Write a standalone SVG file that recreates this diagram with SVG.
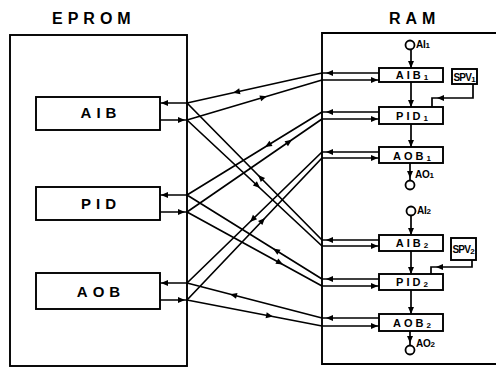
<svg xmlns="http://www.w3.org/2000/svg" xmlns:xlink="http://www.w3.org/1999/xlink" width="496" height="370" viewBox="0 0 496 370">
<style>
.ln{fill:none;stroke:#000;stroke-width:1.7}
.frame{fill:none;stroke:#000;stroke-width:1.9}
.box{fill:#fff;stroke:#000;stroke-width:1.9}
.io{fill:#fff;stroke:#000;stroke-width:1.8}
text{font-family:"Liberation Sans",Arial,sans-serif;fill:#000}
.head{font-size:16px;font-weight:bold;letter-spacing:5px}
.big{font-size:15px;font-weight:bold;letter-spacing:5px;text-anchor:middle}
.sm{font-size:11px;font-weight:bold;letter-spacing:3px;text-anchor:middle}
.sub{font-size:8px;letter-spacing:0}
.lab{font-size:10px;font-weight:bold;letter-spacing:-0.3px}
.spv{font-size:10px;font-weight:bold;letter-spacing:-0.8px}
</style>
<defs>
<path id="ah" d="M0,0 L-7,-3 L-7,3 Z" fill="#000"/>
</defs>
<rect width="496" height="370" fill="#fff"/>

<g id="eprom">
<rect class="frame" x="10" y="35" width="177" height="331"/>
<text class="head" x="52" y="24">EPROM</text>
</g>
<g id="ram">
<path class="frame" d="M497,33 H322 V364 H497"/>
<text class="head" x="389" y="24">RAM</text>
</g>

<g id="connectors">
<path class="ln" d="M187,103 H160 M160,120 H187 M187,195 H160 M160,212 H187 M187,283 H160 M160,300 H187"/>
<use xlink:href="#ah" transform="translate(161,103) rotate(180)"/>
<use xlink:href="#ah" transform="translate(185,120)"/>
<use xlink:href="#ah" transform="translate(161,195) rotate(180)"/>
<use xlink:href="#ah" transform="translate(185,212)"/>
<use xlink:href="#ah" transform="translate(161,283) rotate(180)"/>
<use xlink:href="#ah" transform="translate(185,300)"/>
<path class="ln" d="M322,73 L187,103 M187,120 L322,80 M322,240 L187,103 M187,120 L322,246
M322,112 L187,195 M187,212 L322,119 M322,279 L187,195 M187,212 L322,286
M322,152 L187,283 M187,300 L322,158 M322,318 L187,283 M187,300 L322,326"/>
<use xlink:href="#ah" transform="translate(233,92.8) rotate(167.5)"/>
<use xlink:href="#ah" transform="translate(267,96.3) rotate(-16.5)"/>
<use xlink:href="#ah" transform="translate(258,175) rotate(-134.6)"/>
<use xlink:href="#ah" transform="translate(260,188.1) rotate(43)"/>
<use xlink:href="#ah" transform="translate(265,147) rotate(148.4)"/>
<use xlink:href="#ah" transform="translate(292,139.7) rotate(-34.6)"/>
<use xlink:href="#ah" transform="translate(273,248.5) rotate(-148.1)"/>
<use xlink:href="#ah" transform="translate(283,264.6) rotate(28.7)"/>
<use xlink:href="#ah" transform="translate(250,221.9) rotate(135.9)"/>
<use xlink:href="#ah" transform="translate(265,217.9) rotate(-46.4)"/>
<use xlink:href="#ah" transform="translate(230,294.2) rotate(-165.5)"/>
<use xlink:href="#ah" transform="translate(273,316.6) rotate(10.9)"/>
<path class="ln" d="M379,73 H322 M322,80 H379 M379,112 H322 M322,119 H379 M379,152 H322 M322,158 H379
M379,240 H322 M322,246 H379 M379,279 H322 M322,286 H379 M379,318 H322 M322,326 H379"/>
<use xlink:href="#ah" transform="translate(326,73) rotate(180)"/>
<use xlink:href="#ah" transform="translate(378,80)"/>
<use xlink:href="#ah" transform="translate(326,112) rotate(180)"/>
<use xlink:href="#ah" transform="translate(378,119)"/>
<use xlink:href="#ah" transform="translate(326,152) rotate(180)"/>
<use xlink:href="#ah" transform="translate(378,158)"/>
<use xlink:href="#ah" transform="translate(326,240) rotate(180)"/>
<use xlink:href="#ah" transform="translate(378,246)"/>
<use xlink:href="#ah" transform="translate(326,279) rotate(180)"/>
<use xlink:href="#ah" transform="translate(378,286)"/>
<use xlink:href="#ah" transform="translate(326,318) rotate(180)"/>
<use xlink:href="#ah" transform="translate(378,326)"/>
<path class="ln" d="M411,49.5 V68 M411,82 V107 M411,124 V147 M410,163 V180.5"/>
<use xlink:href="#ah" transform="translate(411,68) rotate(90)"/>
<use xlink:href="#ah" transform="translate(411,107) rotate(90)"/>
<use xlink:href="#ah" transform="translate(411,147) rotate(90)"/>
<use xlink:href="#ah" transform="translate(410,178) rotate(90)"/>
<path class="ln" d="M411,215.5 V235 M411,251 V274 M411,290 V314 M410,331 V345.5"/>
<use xlink:href="#ah" transform="translate(411,235) rotate(90)"/>
<use xlink:href="#ah" transform="translate(411,274) rotate(90)"/>
<use xlink:href="#ah" transform="translate(411,314) rotate(90)"/>
<use xlink:href="#ah" transform="translate(410,343) rotate(90)"/>
<path class="ln" d="M473,84 V98 H432 V107 M472,260 V267 H431 V274"/>
<use xlink:href="#ah" transform="translate(437,98) rotate(180)"/>
<use xlink:href="#ah" transform="translate(436,267) rotate(180)"/>
</g>

<g id="AIB"><rect class="box" x="36" y="97" width="124" height="33"/><text class="big" x="101" y="118">AIB</text></g>
<g id="PID"><rect class="box" x="36" y="187" width="124" height="33"/><text class="big" x="101" y="209">PID</text></g>
<g id="AOB"><rect class="box" x="36" y="273" width="124" height="36"/><text class="big" x="101" y="297">AOB</text></g>

<g id="AIB1"><rect class="box" x="379" y="68" width="64" height="14"/><text class="sm" x="412" y="79">AIB<tspan class="sub" dy="1">1</tspan></text></g>
<g id="PID1"><rect class="box" x="379" y="107" width="64" height="17"/><text class="sm" x="412" y="120">PID<tspan class="sub" dy="1">1</tspan></text></g>
<g id="AOB1"><rect class="box" x="379" y="147" width="64" height="16"/><text class="sm" x="412" y="160">AOB<tspan class="sub" dy="1">1</tspan></text></g>
<g id="AIB2"><rect class="box" x="379" y="235" width="64" height="16"/><text class="sm" x="412" y="247">AIB<tspan class="sub" dy="1">2</tspan></text></g>
<g id="PID2"><rect class="box" x="379" y="274" width="64" height="16"/><text class="sm" x="412" y="286">PID<tspan class="sub" dy="1">2</tspan></text></g>
<g id="AOB2"><rect class="box" x="379" y="314" width="64" height="17"/><text class="sm" x="412" y="327">AOB<tspan class="sub" dy="1">2</tspan></text></g>

<g id="SPV1"><rect class="box" x="452" y="69" width="25" height="15"/><text class="spv" x="453.5" y="80.5">SPV<tspan class="sub" dy="1">1</tspan></text></g>
<g id="SPV2"><rect class="box" x="451" y="238" width="25" height="22"/><text class="spv" x="452.5" y="253">SPV<tspan class="sub" dy="1">2</tspan></text></g>

<g id="AI1"><circle class="io" cx="410" cy="45" r="4.5"/><text class="lab" x="416" y="48">AI<tspan class="sub">1</tspan></text></g>
<g id="AO1"><circle class="io" cx="410" cy="185" r="4.5"/><text class="lab" x="415" y="178">AO<tspan class="sub">1</tspan></text></g>
<g id="AI2"><circle class="io" cx="411" cy="211" r="4.5"/><text class="lab" x="417" y="214">AI<tspan class="sub">2</tspan></text></g>
<g id="AO2"><circle class="io" cx="410" cy="350" r="4.5"/><text class="lab" x="416" y="347">AO<tspan class="sub">2</tspan></text></g>
</svg>
